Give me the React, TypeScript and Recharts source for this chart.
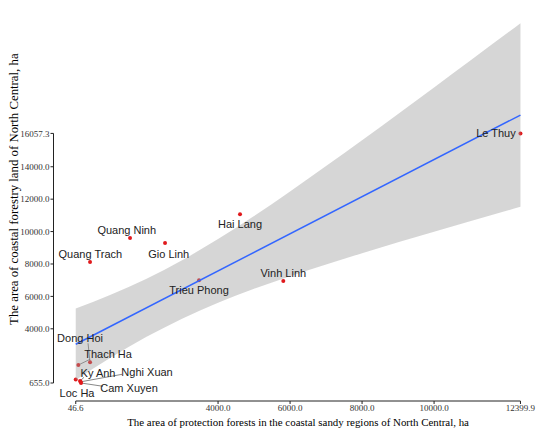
import React from "react";
import {
  ComposedChart,
  XAxis,
  YAxis,
  Area,
  Line,
  Scatter,
  ReferenceLine,
  Label,
} from "recharts";

const districts = [
  "Le Thuy",
  "Hai Lang",
  "Gio Linh",
  "Quang Ninh",
  "Quang Trach",
  "Trieu Phong",
  "Vinh Linh",
  "Dong Hoi",
  "Thach Ha",
  "Ky Anh",
  "Nghi Xuan",
  "Cam Xuyen",
  "Loc Ha",
];
const protectionArea = [12399.9, 4610, 2527, 1555, 444, 3471, 5812, 444, 119, 166, 183, 194, 46.6];
const forestryArea = [16057.3, 11073, 9301, 9610, 8127, 6997, 6954, 1933, 1767, 779, 729, 655, 865];

// confidence band of the linear fit
const bandX = [46.6, 1000, 2000, 3000, 4000, 5000, 6000, 7000, 8000, 9000, 10000, 11000, 12399.9];
const bandLow = [840, 2192, 3487, 4625, 5608, 6469, 7248, 7974, 8667, 9338, 9992, 10636, 11527];
const bandHigh = [5250, 6082, 7077, 8229, 9536, 10965, 12476, 14040, 15637, 17256, 18892, 20538, 22853];

const fitX = [46.6, 12399.9];
const fitY = [3045, 17190];

const xTicks = [46.6, 4000, 6000, 8000, 10000, 12399.9];
const yTicks = [655, 4000, 6000, 8000, 10000, 12000, 14000, 16057.3];

const points = districts.map((name, i) => ({ name, x: protectionArea[i], y: forestryArea[i] }));
const bandData = bandX.map((x, i) => ({ x, band: [bandLow[i], bandHigh[i]] }));
const fitData = fitX.map((x, i) => ({ x, y: fitY[i] }));

// label placement in px relative to the point (repelled labels)
const labelPos: Record<string, { dx: number; dy: number; seg?: [number, number] }> = {
  "Le Thuy": { dx: -24.5, dy: 0 },
  "Hai Lang": { dx: 0, dy: 9.5 },
  "Gio Linh": { dx: 3.7, dy: 10.7 },
  "Quang Ninh": { dx: -3.3, dy: -7.7 },
  "Quang Trach": { dx: 0.3, dy: -8 },
  "Trieu Phong": { dx: 0, dy: 10 },
  "Vinh Linh": { dx: 0, dy: -8.4 },
  "Dong Hoi": { dx: -10, dy: -24, seg: [-2, -19] },
  "Thach Ha": { dx: 29.7, dy: -10.7, seg: [11.7, -5.7] },
  "Ky Anh": { dx: 18, dy: -8.2, seg: [4, -3.7] },
  "Nghi Xuan": { dx: 66.4, dy: -9.5, seg: [41.4, -7.5] },
  "Cam Xuyen": { dx: 48, dy: 5.3, seg: [22, 3.3] },
  "Loc Ha": { dx: 1.3, dy: 13.7 },
};

const SERIF = "'Liberation Serif', 'DejaVu Serif', serif";
const SANS = "'Liberation Sans', Arial, sans-serif";
const RED = "#e0191c";
const BLUE = "#3366ff";
const INK = "#222";

const fmt = (v: number) => v.toFixed(1);

function Dot(props: any) {
  const { cx, cy, payload } = props;
  const p = labelPos[payload.name];
  return (
    <g>
      {p && p.seg && (
        <line x1={cx} y1={cy} x2={cx + p.seg[0]} y2={cy + p.seg[1]} stroke="#555" strokeWidth={0.7} />
      )}
      <circle cx={cx} cy={cy} r={2} fill={RED} />
    </g>
  );
}

function PointLabel(props: any) {
  const { cx, cy, payload } = props;
  const p = labelPos[payload.name] || { dx: 0, dy: -8 };
  return (
    <text
      x={cx + p.dx}
      y={cy + p.dy}
      textAnchor="middle"
      dominantBaseline="central"
      fontSize={11}
      fontFamily={SANS}
      fill={INK}
    >
      {payload.name}
    </text>
  );
}

function XTitle(props: any) {
  const vb = props.viewBox;
  return (
    <text x={vb.x + vb.width / 2} y={vb.y + 21} textAnchor="middle" dominantBaseline="central" fontSize={10.9} fontFamily={SERIF} fill="#000">
      The area of protection forests in the coastal sandy regions of North Central, ha
    </text>
  );
}

function YTitle(props: any) {
  const vb = props.viewBox;
  const cx = 14;
  const cy = vb.y + vb.height / 2 - 14;
  return (
    <text x={cx} y={cy} transform={`rotate(-90 ${cx} ${cy})`} textAnchor="middle" dominantBaseline="central" fontSize={12.8} fontFamily={SERIF} fill="#000">
      The area of coastal forestry land of North Central, ha
    </text>
  );
}

export default function App() {
  return (
    <div style={{ position: "absolute", left: 0, top: 0, background: "#fff" }}>
      <ComposedChart width={548} height={433} data={bandData} margin={{ top: 5.3, right: 5.3, left: 0, bottom: 0 }}>
        <XAxis
          type="number"
          dataKey="x"
          domain={[-571.1, 13017.6]}
          allowDataOverflow
          ticks={xTicks}
          interval={0}
          tickFormatter={fmt}
          axisLine={false}
          tickSize={3}
          tickMargin={1}
          tickLine={{ stroke: INK }}
          tick={{ fontSize: 9, fontFamily: SERIF, fill: "#333" }}
          height={32}
        >
          <Label content={XTitle} />
        </XAxis>
        <YAxis
          type="number"
          dataKey="y"
          domain={[-455, 23963]}
          allowDataOverflow
          ticks={yTicks}
          interval={0}
          tickFormatter={fmt}
          axisLine={false}
          tickSize={3}
          tickMargin={1}
          tickLine={{ stroke: INK }}
          tick={{ fontSize: 9, fontFamily: SERIF, fill: "#333" }}
          width={53.5}
        >
          <Label content={YTitle} />
        </YAxis>
        <ReferenceLine
          segment={[{ x: -571.1, y: 655 }, { x: -571.1, y: 16057.3 }]}
          stroke={INK}
          strokeWidth={1}
          ifOverflow="visible"
        />
        <ReferenceLine
          segment={[{ x: 46.6, y: -455 }, { x: 12399.9, y: -455 }]}
          stroke={INK}
          strokeWidth={1}
          ifOverflow="visible"
        />
        <Scatter data={points} dataKey="y" shape={Dot} isAnimationActive={false} zIndex={50} />
        <Area
          type="monotone"
          dataKey="band"
          stroke="none"
          fill="#999999"
          fillOpacity={0.4}
          isAnimationActive={false}
          dot={false}
          activeDot={false}
        />
        <Line
          data={fitData}
          type="linear"
          dataKey="y"
          stroke={BLUE}
          strokeWidth={1.5}
          dot={false}
          activeDot={false}
          isAnimationActive={false}
        />
        <Scatter data={points} dataKey="y" shape={PointLabel} isAnimationActive={false} zIndex={700} />
      </ComposedChart>
    </div>
  );
}
